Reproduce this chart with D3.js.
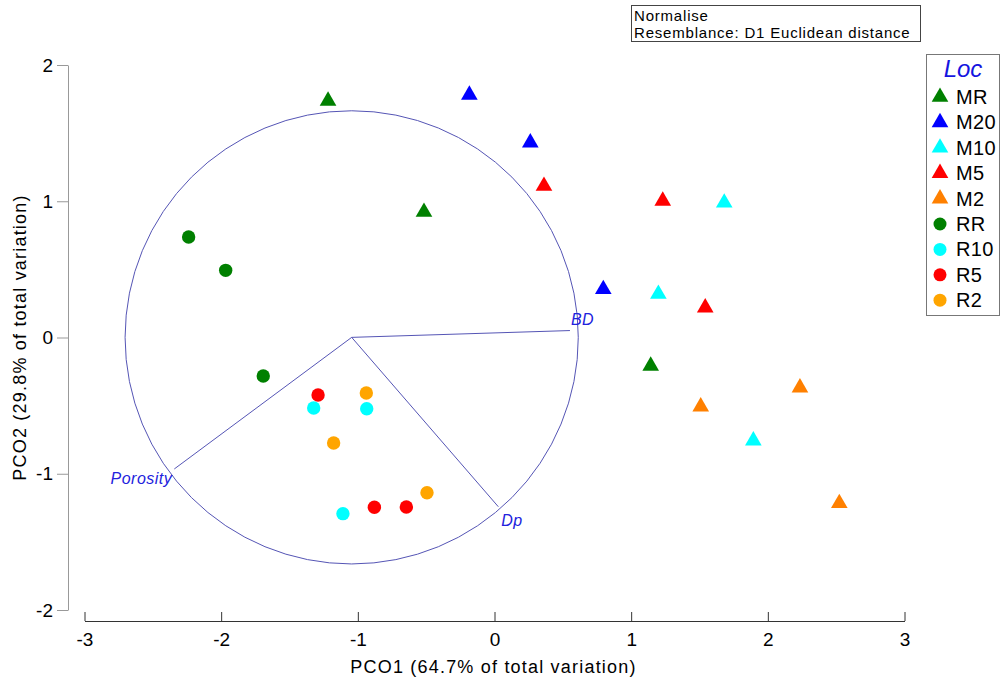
<!DOCTYPE html>
<html>
<head>
<meta charset="utf-8">
<script src="https://cdn.jsdelivr.net/npm/d3@7"></script>
<style>
  body { margin: 0; background: #fff; }
  text { font-family: Arial, "Liberation Sans", sans-serif; }
</style>
</head>
<body>
<script>
// PCO ordination: groups, their symbols and the point scores
var groups = ["MR", "M20", "M10", "M5", "M2", "RR", "R10", "R5", "R2"];
var groupColors = ["#008000", "#0000ff", "#00ffff", "#ff0000", "#ff8000", "#008000", "#00ffff", "#ff0000", "#ffa500"];
var groupShapes = ["tri", "tri", "tri", "tri", "tri", "dot", "dot", "dot", "dot"];

var pco1 = {
  MR:  [-1.218, -0.516, 1.143],
  M20: [-0.184, 0.262, 0.796],
  M10: [1.681, 1.199, 1.894],
  M5:  [0.362, 1.231, 1.542],
  M2:  [2.235, 1.509, 2.523],
  RR:  [-2.238, -1.967, -1.692],
  R10: [-1.323, -0.935, -1.109],
  R5:  [-1.291, -0.879, -0.645],
  R2:  [-0.938, -1.177, -0.494]
};
var pco2 = {
  MR:  [1.736, 0.921, -0.209],
  M20: [1.780, 1.430, 0.354],
  M10: [0.989, 0.319, -0.757],
  M5:  [1.112, 1.002, 0.219],
  M2:  [-0.368, -0.508, -1.217],
  RR:  [0.738, 0.493, -0.283],
  R10: [-0.517, -0.523, -1.293],
  R5:  [-0.422, -1.246, -1.244],
  R2:  [-0.407, -0.774, -1.139]
};

// vector overlay (correlations), drawn from the circle centre
var vecNames = ["BD", "Porosity", "Dp"];
var vecDx = [1.597, -1.298, 1.073];
var vecDy = [0.050, -0.966, -1.243];
var circleCentre = [-1.045, 0.001];
var circleRadius = 1.658;

var xTicks = [-3, -2, -1, 0, 1, 2, 3];
var yTicks = [-2, -1, 0, 1, 2];

var width = 1001, height = 686;

var svg = d3.select("body").append("svg")
            .attr("width", width)
            .attr("height", height);

svg.append("rect").attr("width", width).attr("height", height).attr("fill", "#fff");

var xScale = d3.scaleLinear().domain([-3, 3]).range([84.5, 904.5]);
var yScale = d3.scaleLinear().domain([-2, 2]).range([610, 65]);

// x axis, ticks pointing up
var xAxis = d3.axisBottom(xScale)
              .tickValues(xTicks)
              .tickSizeInner(-9)
              .tickSizeOuter(0)
              .tickPadding(12)
              .tickFormat(d => String(d));

var gx = svg.append("g")
   .attr("transform", "translate(0,621)")
   .call(xAxis);
gx.selectAll("path, line").attr("stroke", "#333");
gx.selectAll("text").attr("font-size", 19).attr("fill", "#000")
  .style("font-family", "Arial, 'Liberation Sans', sans-serif");

// y axis
var yAxis = d3.axisLeft(yScale)
              .tickValues(yTicks)
              .tickSize(11)
              .tickSizeOuter(0)
              .tickPadding(4)
              .tickFormat(d => String(d));

var gy = svg.append("g")
   .attr("transform", "translate(68,0)")
   .call(yAxis);
gy.selectAll("path, line").attr("stroke", "#999");
gy.selectAll("text").attr("font-size", 19).attr("fill", "#000")
  .style("font-family", "Arial, 'Liberation Sans', sans-serif");

svg.append("text")
   .attr("x", xScale(0) - 1)
   .attr("y", 673)
   .attr("text-anchor", "middle")
   .attr("font-size", 18)
   .attr("letter-spacing", 1.2)
   .text("PCO1 (64.7% of total variation)");

svg.append("text")
   .attr("transform", "translate(26," + yScale(0) + ") rotate(-90)")
   .attr("text-anchor", "middle")
   .attr("font-size", 18)
   .attr("letter-spacing", 1.2)
   .text("PCO2 (29.8% of total variation)");

// vector circle and lines
var cx = xScale(circleCentre[0]), cy = yScale(circleCentre[1]);
var rPx = xScale(circleRadius) - xScale(0);

svg.append("circle")
   .attr("cx", cx).attr("cy", cy).attr("r", rPx)
   .attr("fill", "none")
   .attr("stroke", "#5555b5")
   .attr("stroke-width", 1);

var vectors = vecNames.map((n, i) => ({name: n, dx: vecDx[i], dy: vecDy[i]}));

svg.selectAll(".vec")
   .data(vectors)
   .enter()
   .append("line")
   .attr("class", "vec")
   .attr("x1", cx).attr("y1", cy)
   .attr("x2", d => xScale(circleCentre[0] + d.dx))
   .attr("y2", d => yScale(circleCentre[1] + d.dy))
   .attr("stroke", "#5555b5")
   .attr("stroke-width", 1);

var labelOffset = {BD: [1, -6, "start"], Porosity: [-2, 15, "end"], Dp: [3, 19, "start"]};

svg.selectAll(".veclabel")
   .data(vectors)
   .enter()
   .append("text")
   .attr("class", "veclabel")
   .attr("x", d => xScale(circleCentre[0] + d.dx) + labelOffset[d.name][0])
   .attr("y", d => yScale(circleCentre[1] + d.dy) + labelOffset[d.name][1])
   .attr("text-anchor", d => labelOffset[d.name][2])
   .attr("font-size", 16)
   .attr("letter-spacing", 0.5)
   .attr("font-style", "italic")
   .attr("fill", "#2222dd")
   .text(d => d.name);

// points
var points = [];
groups.forEach((g, i) => {
  pco1[g].forEach((v, j) => {
    points.push({group: g, x: v, y: pco2[g][j], color: groupColors[i], shape: groupShapes[i]});
  });
});

var tri = d3.symbol().type(d3.symbolTriangle).size(120);

svg.selectAll(".pt")
   .data(points)
   .enter()
   .append("path")
   .attr("class", "pt")
   .attr("transform", d => "translate(" + xScale(d.x) + "," + yScale(d.y) + ")")
   .attr("d", d => d.shape === "tri" ? tri() : d3.symbol().type(d3.symbolCircle).size(Math.PI * 6.7 * 6.7)())
   .attr("fill", d => d.color);

// info box
svg.append("rect")
   .attr("x", 631.5).attr("y", 5.5)
   .attr("width", 289).attr("height", 36)
   .attr("fill", "#fff").attr("stroke", "#444");

svg.append("text").attr("x", 634).attr("y", 21).attr("font-size", 15).attr("letter-spacing", 0.8).text("Normalise");
svg.append("text").attr("x", 634).attr("y", 38).attr("font-size", 15).attr("letter-spacing", 0.8).text("Resemblance: D1 Euclidean distance");

// legend
var legend = svg.append("g");
legend.append("rect")
      .attr("x", 926.5).attr("y", 54.5)
      .attr("width", 73).attr("height", 261)
      .attr("fill", "#fff").attr("stroke", "#777");

legend.append("text")
      .attr("x", 963).attr("y", 77)
      .attr("text-anchor", "middle")
      .attr("font-size", 24)
      .attr("font-style", "italic")
      .attr("fill", "#1515e0")
      .text("Loc");

var item = legend.selectAll(".item")
      .data(groups)
      .enter()
      .append("g")
      .attr("class", "item")
      .attr("transform", (d, i) => "translate(0," + (97 + i * 25.4) + ")");

item.append("path")
    .attr("transform", "translate(940,0)")
    .attr("d", (d, i) => groupShapes[i] === "tri" ? tri() : d3.symbol().type(d3.symbolCircle).size(Math.PI * 6.5 * 6.5)())
    .attr("fill", (d, i) => groupColors[i]);

item.append("text")
    .attr("x", 956)
    .attr("y", 7)
    .attr("font-size", 20)
    .attr("letter-spacing", 0.4)
    .text(d => d);
</script>
</body>
</html>
